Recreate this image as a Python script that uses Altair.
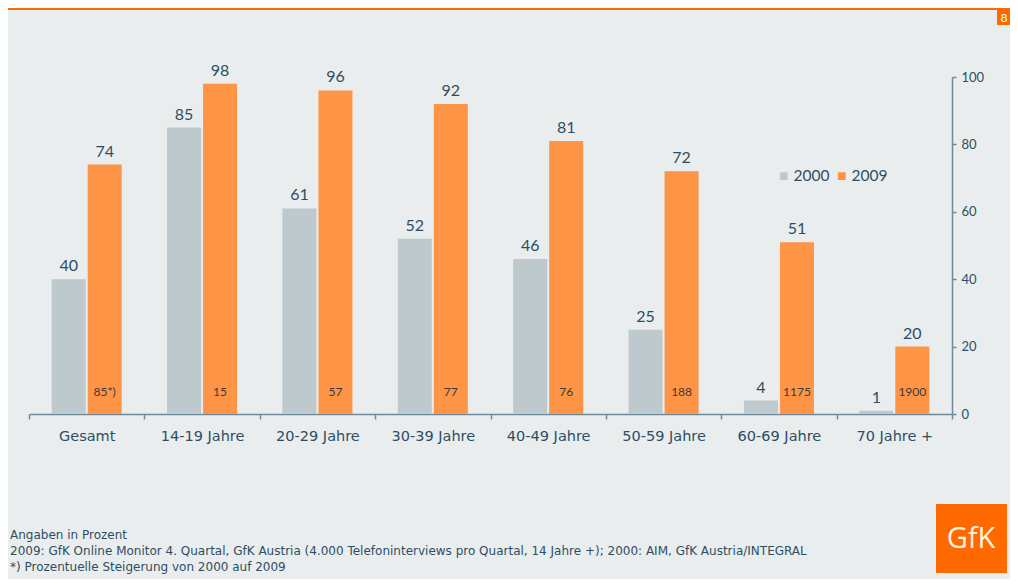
import altair as alt
import pandas as pd

categories = ["Gesamt", "14-19 Jahre", "20-29 Jahre", "30-39 Jahre",
              "40-49 Jahre", "50-59 Jahre", "60-69 Jahre", "70 Jahre +"]
values_2000 = [40, 85, 61, 52, 46, 25, 4, 1]
values_2009 = [74, 98, 96, 92, 81, 72, 51, 20]
growth_labels = ["85*)", "15", "57", "77", "76", "188", "1175", "1900"]
years = ["2000", "2009"]
footer_lines = [
    "Angaben in Prozent",
    "2009: GfK Online Monitor 4. Quartal, GfK Austria (4.000 Telefoninterviews pro Quartal, 14 Jahre +); 2000: AIM, GfK Austria/INTEGRAL",
    "*) Prozentuelle Steigerung von 2000 auf 2009",
]

rows = []
for c, a, b in zip(categories, values_2000, values_2009):
    rows.append({"cat": c, "year": "2000", "value": a})
    rows.append({"cat": c, "year": "2009", "value": b})
df = pd.DataFrame(rows)
gdf = pd.DataFrame({"cat": categories, "year": "2009", "growth": growth_labels})

TXT = "#2e4d63"
AX = "#6f8a99"
FONT = "Lato"
AXFONT = "DejaVu Sans"

xenc = alt.X("cat:N", sort=categories,
             scale=alt.Scale(paddingInner=0, paddingOuter=0),
             axis=alt.Axis(title=None, labelAngle=0, tickBand="extent",
                           labelFontSize=14.5, labelColor=TXT, labelFont=AXFONT,
                           domainColor=AX, domainWidth=1.5, tickColor=AX,
                           tickWidth=1.5, tickSize=5, labelPadding=10))
xoff = alt.XOffset("year:N", scale=alt.Scale(paddingInner=0.056, paddingOuter=0.63))
yscale = alt.Scale(domain=[0, 100], nice=False)

bars = alt.Chart(df).mark_bar().encode(
    x=xenc,
    xOffset=xoff,
    y=alt.Y("value:Q", scale=yscale,
            axis=alt.Axis(orient="right", title=None, values=[0, 20, 40, 60, 80, 100],
                          grid=False, labelFontSize=13, labelColor=TXT, labelFont=FONT,
                          domainColor=AX, domainWidth=1.5, tickColor=AX, tickWidth=1.5,
                          tickSize=4, labelPadding=5)),
    color=alt.Color("year:N", scale=alt.Scale(domain=years, range=["#bdc9cd", "#fe9445"]),
                    legend=alt.Legend(title=None, orient="none", legendX=747, legendY=91,
                                      direction="horizontal", symbolType="square",
                                      symbolSize=60, labelFontSize=15.5, labelColor=TXT,
                                      labelFont=FONT, columnPadding=4, labelOffset=2,
                                      symbolStrokeWidth=0)),
)

top_labels = alt.Chart(df).mark_text(baseline="bottom", dy=-5, fontSize=16,
                                     color=TXT, font=FONT).encode(
    x=alt.X("cat:N", sort=categories), xOffset="year:N",
    y="value:Q", text="value:Q")

inner_labels = alt.Chart(gdf).mark_text(baseline="middle", dy=-22, fontSize=12,
                                        color="#3a3a3a", font=FONT).encode(
    x=alt.X("cat:N", sort=categories), xOffset="year:N",
    y=alt.datum(0), text="growth:N")

one = pd.DataFrame({"k": [0]})
top_line = alt.Chart(one).mark_rule(color="#ff6a00", strokeWidth=2).encode(
    x=alt.value(-21), x2=alt.value(985), y=alt.value(-68))
box8 = alt.Chart(one).mark_rect(color="#ff6a00").encode(
    x=alt.value(968), x2=alt.value(985), y=alt.value(-67), y2=alt.value(-52))
txt8 = alt.Chart(one).mark_text(text="8", color="white", fontSize=12, font=FONT,
                                align="center", baseline="middle").encode(
    x=alt.value(975), y=alt.value(-59))
logo = alt.Chart(one).mark_rect(color="#ff6a00").encode(
    x=alt.value(907), x2=alt.value(978), y=alt.value(427), y2=alt.value(496))
logo_txt = alt.Chart(one).mark_text(text="GfK", color="#fff4e0", fontSize=29,
                                    font="Open Sans", align="center",
                                    baseline="middle").encode(
    x=alt.value(942), y=alt.value(462))

footer = []
for i, line in enumerate(footer_lines):
    footer.append(alt.Chart(one).mark_text(text=line, color=TXT, fontSize=12,
                                           font="DejaVu Sans",
                                           align="left", baseline="middle").encode(
        x=alt.value(-19), y=alt.value(458 + 16 * i)))

chart = alt.layer(bars, top_labels, inner_labels, top_line, box8, txt8, logo, logo_txt,
                  *footer).properties(
    width=923, height=337,
    autosize=alt.AutoSizeParams(type="none"),
    padding={"left": 21, "top": 69, "right": 58, "bottom": 165},
    background="#e9edee",
).configure_view(stroke=None)

chart.save("out.html", embed_options={"renderer": "svg", "actions": False})
